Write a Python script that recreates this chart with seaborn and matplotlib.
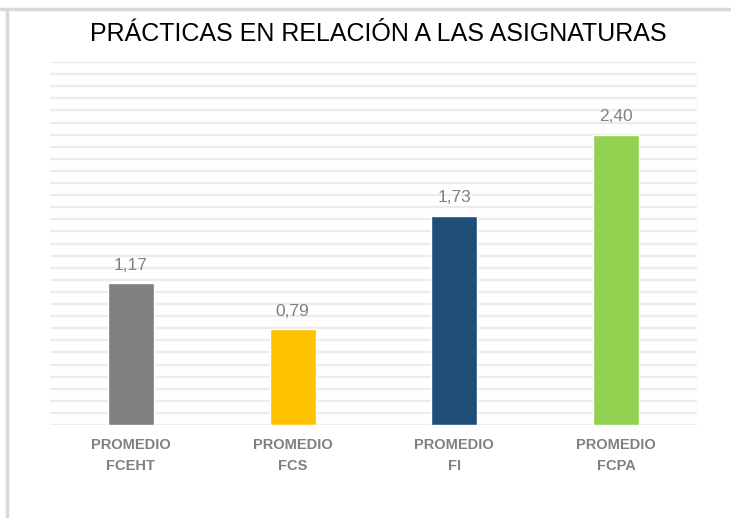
import matplotlib
matplotlib.use("Agg")
import matplotlib.pyplot as plt
import seaborn as sns
import pandas as pd
import numpy as np

# Datos del grafico
categorias = ["PROMEDIO\nFCEHT", "PROMEDIO\nFCS", "PROMEDIO\nFI", "PROMEDIO\nFCPA"]
valores = [1.17, 0.79, 1.73, 2.40]
colores = ["#7f7f7f", "#ffc000", "#1f4e79", "#92d050"]

df = pd.DataFrame({"categoria": categorias, "valor": valores})

sns.set_style("white")
plt.rcParams["font.family"] = ["Liberation Sans", "DejaVu Sans"]

fig = plt.figure(figsize=(7.31, 5.18), dpi=100)
ax = fig.add_axes([0.0684, 0.1795, 0.885, 0.7007])

sns.barplot(data=df, x="categoria", y="valor", hue="categoria",
            palette=colores, width=0.285, legend=False, ax=ax, saturation=1)

ax.set_ylim(0, 3.0)
ax.set_xlim(-0.5, 3.5)
ax.set_yticks(np.arange(0, 3.01, 0.1))
ax.yaxis.grid(True, color="#ececec", linewidth=1.6)
ax.set_axisbelow(True)
ax.tick_params(axis="y", left=False, labelleft=False)
ax.tick_params(axis="x", bottom=False, pad=6)
for lab in ax.get_xticklabels():
    lab.set_color("#808080")
    lab.set_fontsize(10.5)
    lab.set_fontweight("bold")
    lab.set_linespacing(1.6)
for s in ax.spines.values():
    s.set_visible(False)
ax.set_xlabel("")
ax.set_ylabel("")

# Etiquetas de valor
for i, v in enumerate(valores):
    ax.text(i, v + 0.09, f"{v:.2f}".replace(".", ","), ha="center", va="bottom",
            color="#808080", fontsize=12.5)

fig.text(0.518, 0.934, "PRÁCTICAS EN RELACIÓN A LAS ASIGNATURAS", ha="center", va="center",
         fontsize=18, color="#000000")

# Borde del grafico
fig.add_artist(plt.Line2D([0, 1], [1 - 9 / 518] * 2, color="#d9d9d9", linewidth=2.5))
fig.add_artist(plt.Line2D([7 / 731] * 2, [0, 1 - 9 / 518], color="#d9d9d9", linewidth=2.5))

fig.savefig("out.png", dpi=100)
